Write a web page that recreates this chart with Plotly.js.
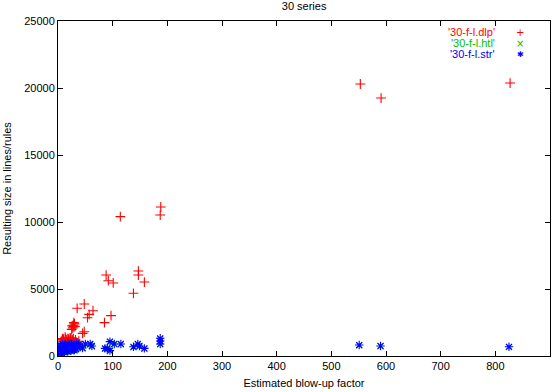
<!DOCTYPE html>
<html>
<head>
<meta charset="utf-8">
<script src="https://cdn.plot.ly/plotly-3.0.1.min.js"></script>
<style>html,body{margin:0;padding:0;background:#fff}#c{width:559px;height:392px}</style>
</head>
<body>
<div id="c"></div>
<script>
// '30-f-l.dlp' series (red +)
const dlpX = [553, 591, 827, 114, 188, 187, 88, 92, 101, 147, 147, 158, 138,
  35, 48, 64, 57, 54, 97, 29, 85, 29, 25, 48, 45, 28, 31, 27, 30, 26,
  1, 2, 4, 5, 7, 8, 10, 12, 13, 15, 16, 18, 20, 22, 24, 26, 28, 30, 32, 35, 38,
  3, 6, 9, 11, 14, 17, 19, 21, 23, 25, 27, 33, 36, 2];
const dlpY = [20300, 19250, 20370, 10400, 11120, 10520, 6040, 5620, 5450, 6340, 6040, 5520, 4680,
  3560, 3880, 3380, 3110, 2860, 3010, 2490, 2490, 2190, 1990, 1810, 1690, 2300, 2200, 2100, 2400, 2250,
  50, 300, 600, 900, 1100, 1300, 1250, 1000, 1400, 1200, 800, 1300, 1150, 1350, 1250, 1100, 1300, 1000, 1200, 900, 1100,
  450, 700, 1200, 950, 1300, 1000, 1250, 1050, 1300, 900, 1200, 1050, 850, 150];

// '30-f-l.htl' series (green x)
const htlX = [551, 590, 825, 187, 187, 187, 158, 149, 146, 138, 115, 103, 95, 90, 86, 62, 59, 50, 45, 95,
  1, 2, 2, 3, 3, 4, 5, 5, 6, 7, 8, 8, 9, 10, 10, 11, 12, 13, 14, 15, 16, 17, 18, 19, 20,
  21, 22, 24, 25, 26, 28, 30, 32, 34, 36, 38, 40, 3, 6, 9, 12, 15, 18, 21, 24, 27, 30, 33];
const htlY = [790, 720, 660, 1280, 1080, 860, 530, 710, 860, 650, 860, 860, 360, 530, 530, 710, 860, 860, 560, 1030,
  40, 150, 400, 250, 600, 350, 500, 750, 300, 650, 450, 850, 550, 350, 700, 600, 450, 800, 650, 500, 750, 400, 900, 600, 500,
  800, 650, 550, 850, 700, 600, 750, 500, 900, 650, 800, 700, 150, 200, 300, 250, 350, 300, 400, 350, 450, 400, 500];

// '30-f-l.str' series (blue *)
const strX = [551, 590, 825, 187, 187, 187, 158, 149, 146, 138, 115, 103, 95, 90, 86, 62, 59, 50, 45, 95,
  1, 2, 2, 3, 3, 4, 5, 5, 6, 7, 8, 8, 9, 10, 10, 11, 12, 13, 14, 15, 16, 17, 18, 19, 20,
  21, 22, 24, 25, 26, 28, 30, 32, 34, 36, 38, 40, 3, 6, 9, 12, 15, 18, 21, 24, 27, 30, 33];
const strY = [820, 750, 690, 1320, 1120, 900, 570, 750, 900, 690, 900, 900, 400, 570, 570, 750, 900, 900, 600, 1070,
  80, 200, 450, 300, 650, 400, 550, 800, 350, 700, 500, 900, 600, 400, 750, 650, 500, 850, 700, 550, 800, 450, 950, 650, 550,
  850, 700, 600, 900, 750, 650, 800, 550, 950, 700, 850, 750, 200, 250, 350, 300, 400, 350, 450, 400, 500, 450, 550];

const xTicks = [0, 100, 200, 300, 400, 500, 600, 700, 800, 900];
const yTicks = [0, 5000, 10000, 15000, 20000, 25000];
const seriesNames = ["'30-f-l.dlp'", "'30-f-l.htl'", "'30-f-l.str'"];
const seriesColors = ['#ff0000', '#00c000', '#0000ff'];

const FONT = 'Liberation Sans, Arial, sans-serif';

const traces = [
  {x: dlpX, y: dlpY, type: 'scatter', mode: 'markers', name: seriesNames[0],
   marker: {symbol: 'cross-thin-open', size: 7, line: {color: seriesColors[0], width: 1.1}, color: seriesColors[0]}},
  {x: htlX, y: htlY, type: 'scatter', mode: 'markers', name: seriesNames[1],
   marker: {symbol: 'x-thin-open', size: 6, line: {color: seriesColors[1], width: 1.1}, color: seriesColors[1]}},
  {x: strX, y: strY, type: 'scatter', mode: 'markers', name: seriesNames[2],
   marker: {symbol: 'asterisk-open', size: 7, line: {color: seriesColors[2], width: 1.1}, color: seriesColors[2]}}
];

const legendSymbols = ['+', '×', '✱'];
const rowsY = [0.966, 0.933, 0.900];
const annotations = [];
seriesNames.forEach((n, i) => {
  annotations.push({xref: 'paper', yref: 'paper', x: 0.893, y: rowsY[i], xanchor: 'right', yanchor: 'middle',
    text: n, showarrow: false, font: {family: FONT, size: 11, color: seriesColors[i]}});
  annotations.push({xref: 'paper', yref: 'paper', x: 0.94, y: rowsY[i], xanchor: 'center', yanchor: 'middle',
    text: legendSymbols[i], showarrow: false, height: 10, font: {family: 'DejaVu Sans', size: i === 2 ? 8 : 10, color: seriesColors[i]}});
});

const axisCommon = {
  showline: true, linecolor: '#000', linewidth: 1, mirror: 'ticks',
  ticks: 'inside', ticklen: 5, tickcolor: '#000', tickwidth: 1,
  showgrid: false, zeroline: false, tickmode: 'array',
  tickfont: {family: FONT, size: 11, color: '#000'}
};

const layout = {
  width: 559, height: 392,
  margin: {l: 58, r: 9, t: 21, b: 36},
  paper_bgcolor: '#fff', plot_bgcolor: '#fff',
  showlegend: false,
  font: {family: FONT, size: 11, color: '#000'},
  title: {text: '30 series', x: 0.544, xanchor: 'center', y: 0.995, yanchor: 'top', yref: 'container',
          font: {family: FONT, size: 11, color: '#000'}},
  xaxis: Object.assign({}, axisCommon, {range: [0, 900], tickvals: xTicks, ticktext: xTicks.map(String),
    title: {text: 'Estimated blow-up factor', standoff: 8, font: {family: FONT, size: 11}}}),
  yaxis: Object.assign({}, axisCommon, {range: [0, 25000], tickvals: yTicks, ticktext: yTicks.map(String),
    title: {text: 'Resulting size in lines/rules', standoff: 10, font: {family: FONT, size: 11}}}),
  annotations: annotations
};

Plotly.newPlot('c', traces, layout, {displayModeBar: false, staticPlot: true});
</script>
</body>
</html>
